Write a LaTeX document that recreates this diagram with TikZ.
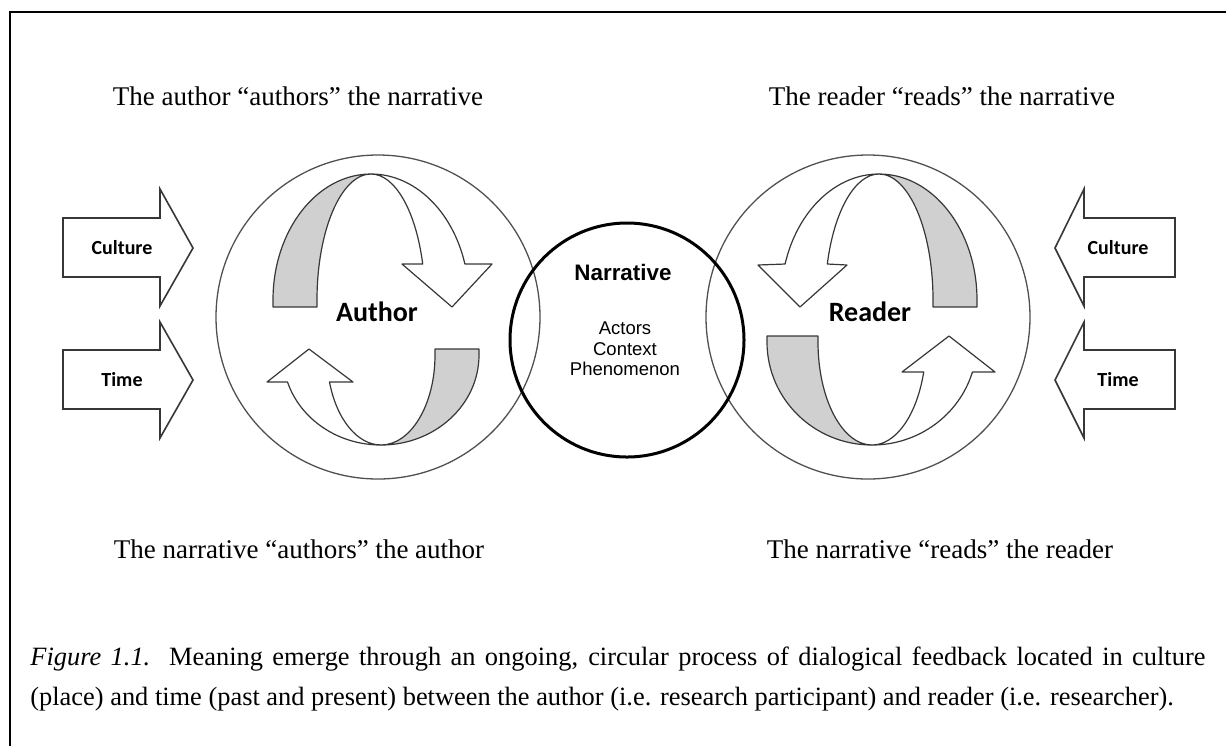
\documentclass[tikz,border=0pt]{standalone}
\usepackage{fontspec}
\setmainfont{Liberation Serif}
\newfontfamily\calibrifont{Carlito}
\newfontfamily\arialfont{Liberation Sans}

\definecolor{bandgrey}{RGB}{208,208,208}
\definecolor{edgegrey}{RGB}{55,55,55}
\definecolor{ringgrey}{RGB}{80,80,80}

\tikzset{
  ribbon/.style={draw=edgegrey, line width=0.6pt, line join=round},
  ring/.style={circle, draw=ringgrey, line width=0.65pt, minimum size=162pt, inner sep=0pt},
  sidearrow/.style={draw=edgegrey, line width=0.8pt, fill=white, line join=miter},
  sidelbl/.style={font=\calibrifont\bfseries\fontsize{10}{12}\selectfont},
  rolelbl/.style={font=\calibrifont\bfseries\fontsize{14}{16}\selectfont},
  phrase/.style={font=\fontsize{13.5}{16}\selectfont, anchor=base, inner sep=0pt},
  capline/.style={font=\fontsize{13.2}{20}\selectfont, anchor=base west, inner sep=0pt}
}

\begin{document}
\begin{tikzpicture}[x=0.5pt, y=-0.5pt]
        \useasboundingbox (0,0) rectangle (1226,746);

        % frame
        \draw[line width=1.4pt] (10,746) -- (10,12) -- (1226,12);

        % circles
        \node[ring] (author) at (378,317) {};
        \node[ring] (reader) at (868,317) {};
        \node[ring, draw=black, line width=1.5pt, minimum size=117pt] (narrative) at (627,340) {};

        % author loop, top
        \draw[ribbon, fill=bandgrey] (273,307) -- (273,300) arc[start angle=180, end angle=270, x radius=98, y radius=126]
            arc[start angle=270, end angle=180, x radius=54, y radius=126] -- (317,307) -- cycle;
        \draw[ribbon, fill=white] (371,174) arc[start angle=270, end angle=343.4, x radius=98, y radius=126]
            -- (492,264) -- (452,307) -- (402,264) -- (422.7,264)
            arc[start angle=343.4, end angle=270, x radius=54, y radius=126] -- cycle;

        % author loop, bottom
        \draw[ribbon, fill=bandgrey] (479,349) -- (479,355) arc[start angle=0, end angle=90, x radius=98, y radius=90]
            arc[start angle=90, end angle=0, x radius=54, y radius=90] -- (435,349) -- cycle;
        \draw[ribbon, fill=white] (381,445) arc[start angle=90, end angle=162.5, x radius=98, y radius=90]
            -- (267,382) -- (309,349) -- (353,382) -- (329.5,382)
            arc[start angle=162.5, end angle=90, x radius=54, y radius=90] -- cycle;

        % reader loops, mirrored
        \begin{scope}[xshift=625pt, xscale=-1]
            \draw[ribbon, fill=bandgrey] (273,307) -- (273,300) arc[start angle=180, end angle=270, x radius=98, y radius=126]
                arc[start angle=270, end angle=180, x radius=54, y radius=126] -- (317,307) -- cycle;
            \draw[ribbon, fill=white] (371,174) arc[start angle=270, end angle=343.4, x radius=98, y radius=126]
                -- (492,265) -- (450,307) -- (403,265) -- (422.7,264)
                arc[start angle=343.4, end angle=270, x radius=54, y radius=126] -- cycle;

            \draw[ribbon, fill=bandgrey] (483,336) -- (483,342) arc[start angle=0, end angle=90, x radius=105, y radius=103]
                arc[start angle=90, end angle=0, x radius=54, y radius=103] -- (432,336) -- cycle;
            \draw[ribbon, fill=white] (378,445) arc[start angle=90, end angle=163.07, x radius=105, y radius=103]
                -- (255,372) -- (301,336) -- (348,372) -- (326.3,372)
                arc[start angle=163.07, end angle=90, x radius=54, y radius=103] -- cycle;
        \end{scope}

        % side arrows
        \draw[sidearrow] (63,218) -- (160,218) -- (160,189) -- (193,248) -- (160,306) -- (160,277) -- (63,277) -- cycle;
        \draw[sidearrow] (63,350) -- (160,350) -- (160,322) -- (193,380) -- (160,438) -- (160,409) -- (63,409) -- cycle;
        \draw[sidearrow] (1175,218) -- (1084,218) -- (1084,189) -- (1055,248) -- (1084,306) -- (1084,277) -- (1175,277) -- cycle;
        \draw[sidearrow] (1175,350) -- (1084,350) -- (1084,322) -- (1055,380) -- (1084,438) -- (1084,409) -- (1175,409) -- cycle;

        \node[sidelbl] (cultureL) at (122,248) {Culture};
        \node[sidelbl] (timeL) at (122,380) {Time};
        \node[sidelbl] (cultureR) at (1118,248) {Culture};
        \node[sidelbl] (timeR) at (1118,380) {Time};

        % labels in the circles
        \node[rolelbl] (authorlbl) at (377,312) {Author};
        \node[rolelbl] (readerlbl) at (870,312) {Reader};
        \node[font=\arialfont\bfseries\fontsize{11.2}{13}\selectfont] (narrlbl) at (623,272) {Narrative};
        \node[font=\arialfont\fontsize{9.25}{10.25}\selectfont, align=center] (parts) at (625,349)
            {Actors\\Context\\Phenomenon};

        % phrases
        \node[phrase] (authorsTop) at (298,105) {The author “authors” the narrative};
        \node[phrase] (readsTop) at (942,105) {The reader “reads” the narrative};
        \node[phrase] (authorsBot) at (299,558) {The narrative “authors” the author};
        \node[phrase] (readsBot) at (940,558) {The narrative “reads” the reader};

        % caption
        \node[capline] (cap1) at (30,665) {\makebox[587.5pt][s]{\textit{Figure 1.1.}\ \ Meaning emerge through an ongoing, circular process of dialogical feedback located in culture}};
        \node[capline] (cap2) at (30,705) {(place) and time (past and present) between the author (i.e. research participant) and reader (i.e. researcher).};
\end{tikzpicture}
\end{document}
